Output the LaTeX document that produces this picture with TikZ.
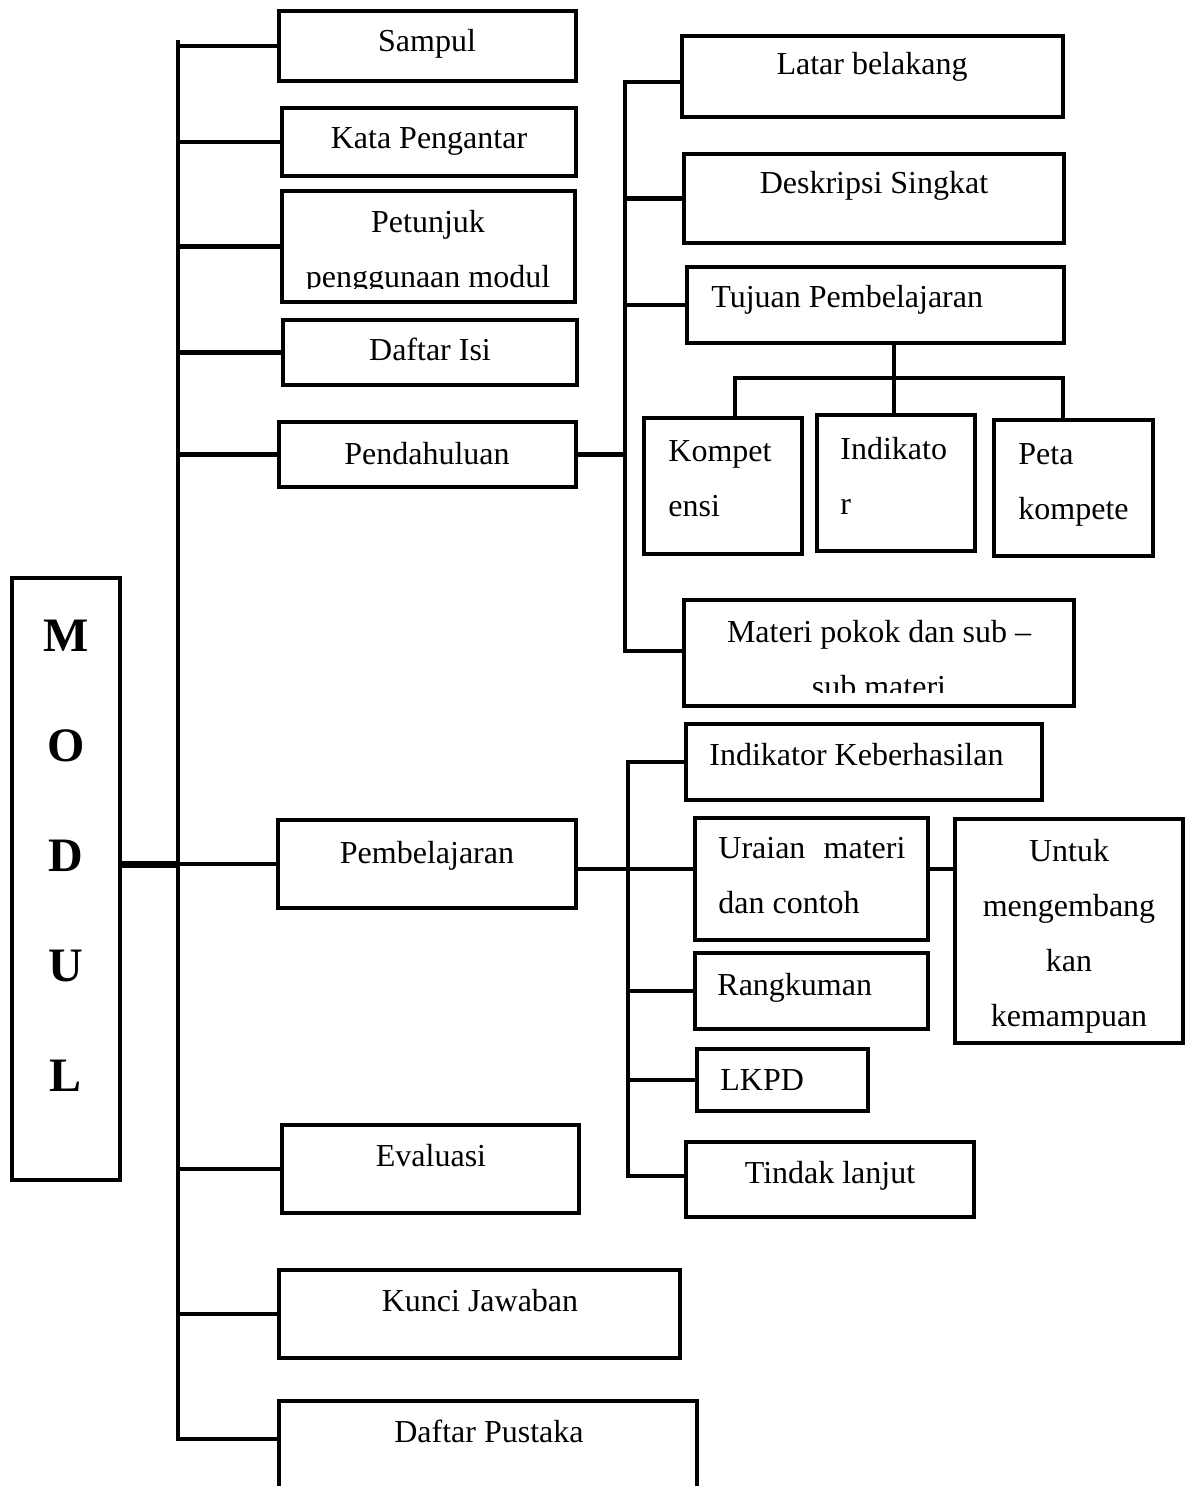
\documentclass[tikz,border=0pt]{standalone}
\usepackage{fontspec}
\setmainfont{Liberation Serif}
\usetikzlibrary{fit}

\tikzset{
  boxnode/.style={draw,line width=2.3pt,inner sep=0pt},
  link/.style={line width=2.3pt,line cap=rect},
  txt/.style={font=\fontsize{16}{27.5}\selectfont,inner sep=0pt,anchor=base},
  txtl/.style={txt,anchor=base west,align=left},
}

\begin{document}
\begin{tikzpicture}[x=0.5pt,y=-0.5pt]
  \useasboundingbox (0,0) rectangle (1194,1486);

  % root
  \node[boxnode,fit={(12,578) (120,1180)}] (modul) {};
  \node[txt,font=\fontsize{24}{55}\selectfont\bfseries,align=center] (t-modul) at (66,1091) {M\\O\\D\\U\\L};

  % first level
  \node[boxnode,fit={(279,11) (576,81)}] (sampul) {};
  \node[boxnode,fit={(282,108) (576,176)}] (kata) {};
  \node[boxnode,fit={(282,191) (575,302)}] (petunjuk) {};
  \node[boxnode,fit={(283,320) (577,385)}] (dafisi) {};
  \node[boxnode,fit={(279,422) (576,487)}] (pendah) {};
  \node[boxnode,fit={(278,820) (576,908)}] (pembel) {};
  \node[boxnode,fit={(282,1125) (579,1213)}] (evaluasi) {};
  \node[boxnode,fit={(279,1270) (680,1358)}] (kunci) {};
  \node[boxnode,fit={(279,1401) (697,1520)}] (dapus) {};

  \node[txt] (t-sampul) at (427,52) {Sampul};
  \node[txt] (t-kata) at (429,149) {Kata Pengantar};
  \begin{scope}
    \clip (282,191) rectangle (575,288.5);
    \node[txt,align=center] (t-petunjuk) at (428,288) {Petunjuk\\penggunaan modul};
  \end{scope}
  \node[txt] (t-dafisi) at (430,361) {Daftar Isi};
  \node[txt] (t-pendah) at (427,464) {Pendahuluan};
  \node[txt] (t-pembel) at (427,863) {Pembelajaran};
  \node[txt] (t-evaluasi) at (431,1166) {Evaluasi};
  \node[txt] (t-kunci) at (480,1311) {Kunci Jawaban};
  \node[txt] (t-dapus) at (489,1442) {Daftar Pustaka};

  % pendahuluan
  \node[boxnode,fit={(682,36) (1063,117)}] (latar) {};
  \node[boxnode,fit={(684,154) (1064,243)}] (deskripsi) {};
  \node[boxnode,fit={(687,267) (1064,343)}] (tujuan) {};
  \node[boxnode,fit={(644,418) (802,554)}] (kompet) {};
  \node[boxnode,fit={(817,415) (975,551)}] (indik) {};
  \node[boxnode,fit={(994,420) (1153,556)}] (peta) {};
  \node[boxnode,fit={(684,600) (1074,706)}] (materi) {};

  \node[txt] (t-latar) at (872,75) {Latar belakang};
  \node[txt] (t-deskripsi) at (874,194) {Deskripsi Singkat};
  \node[txtl] (t-tujuan) at (711,308) {Tujuan Pembelajaran};
  \node[txtl] (t-kompet) at (668,516) {Kompet\\ensi};
  \node[txtl] (t-indik) at (840,514) {Indikato\\r};
  \node[txtl] (t-peta) at (1018,519) {Peta\\kompete};
  \begin{scope}
    \clip (684,600) rectangle (1074,692);
    \node[txt,align=center] (t-materi) at (879,697) {Materi pokok dan sub –\\sub materi};
  \end{scope}

  % pembelajaran
  \node[boxnode,fit={(686,724) (1042,800)}] (indkeb) {};
  \node[boxnode,fit={(695,818) (928,940)}] (uraian) {};
  \node[boxnode,fit={(955,819) (1183,1043)}] (untuk) {};
  \node[boxnode,fit={(695,953) (928,1029)}] (rangkum) {};
  \node[boxnode,fit={(697,1049) (868,1111)}] (lkpd) {};
  \node[boxnode,fit={(686,1142) (974,1217)}] (tindak) {};

  \node[txtl] (t-indkeb) at (709,765) {Indikator Keberhasilan};
  \node[txtl] (t-uraian) at (718,913) {\makebox[93.5pt][s]{Uraian materi}\\dan contoh};
  \node[txt,align=center] (t-untuk) at (1069,1026) {Untuk\\mengembang\\kan\\kemampuan};
  \node[txtl] (t-rangkum) at (717,995) {Rangkuman};
  \node[txtl] (t-lkpd) at (720,1090) {LKPD};
  \node[txt] (t-tindak) at (830,1183) {Tindak lanjut};

  % bus lines
  \coordinate (b1top) at (178,42);
  \coordinate (b1bot) at (178,1439);
  \draw[link] (b1top) -- (b1bot);
  \foreach \n in {sampul,kata,petunjuk,dafisi,pendah,pembel,evaluasi,kunci}
    \draw[link] (b1top |- \n.west) -- (\n.west);
  \draw[link] (b1bot) -- (b1bot -| dapus.west);
  \draw[line width=3.5pt] (modul.east |- pembel.west) -- (b1top |- pembel.west);

  \coordinate (b2top) at (625,82);
  \coordinate (b2bot) at (625,651);
  \draw[link] (b2top) -- (b2bot);
  \draw[link] (pendah.east) -- (b2top |- pendah.east);
  \draw[link] (b2top) -- (b2top -| latar.west);
  \draw[link] (b2top |- deskripsi.west) -- (deskripsi.west);
  \draw[link] (b2top |- tujuan.west) -- (tujuan.west);
  \draw[link] (b2bot) -- (b2bot -| materi.west);

  \coordinate (fork) at (894,378);
  \coordinate (forkl) at (735,378);
  \coordinate (forkr) at (1063,378);
  \draw[link] (fork |- tujuan.south) -- (fork);
  \draw[link] (forkl) -- (forkr);
  \draw[link] (forkl) -- (forkl |- kompet.north);
  \draw[link] (fork) -- (fork |- indik.north);
  \draw[link] (forkr) -- (forkr |- peta.north);

  \coordinate (b3top) at (628,762);
  \coordinate (b3mid) at (628,869);
  \coordinate (b3bot) at (628,1176);
  \draw[link] (b3top) -- (b3bot);
  \draw[link] (pembel.east |- b3mid) -- (b3mid -| uraian.west);
  \draw[link] (uraian.east |- b3mid) -- (b3mid -| untuk.west);
  \draw[link] (b3top) -- (b3top -| indkeb.west);
  \draw[link] (b3top |- rangkum.west) -- (rangkum.west);
  \draw[link] (b3top |- lkpd.west) -- (lkpd.west);
  \draw[link] (b3bot) -- (b3bot -| tindak.west);
\end{tikzpicture}
\end{document}
